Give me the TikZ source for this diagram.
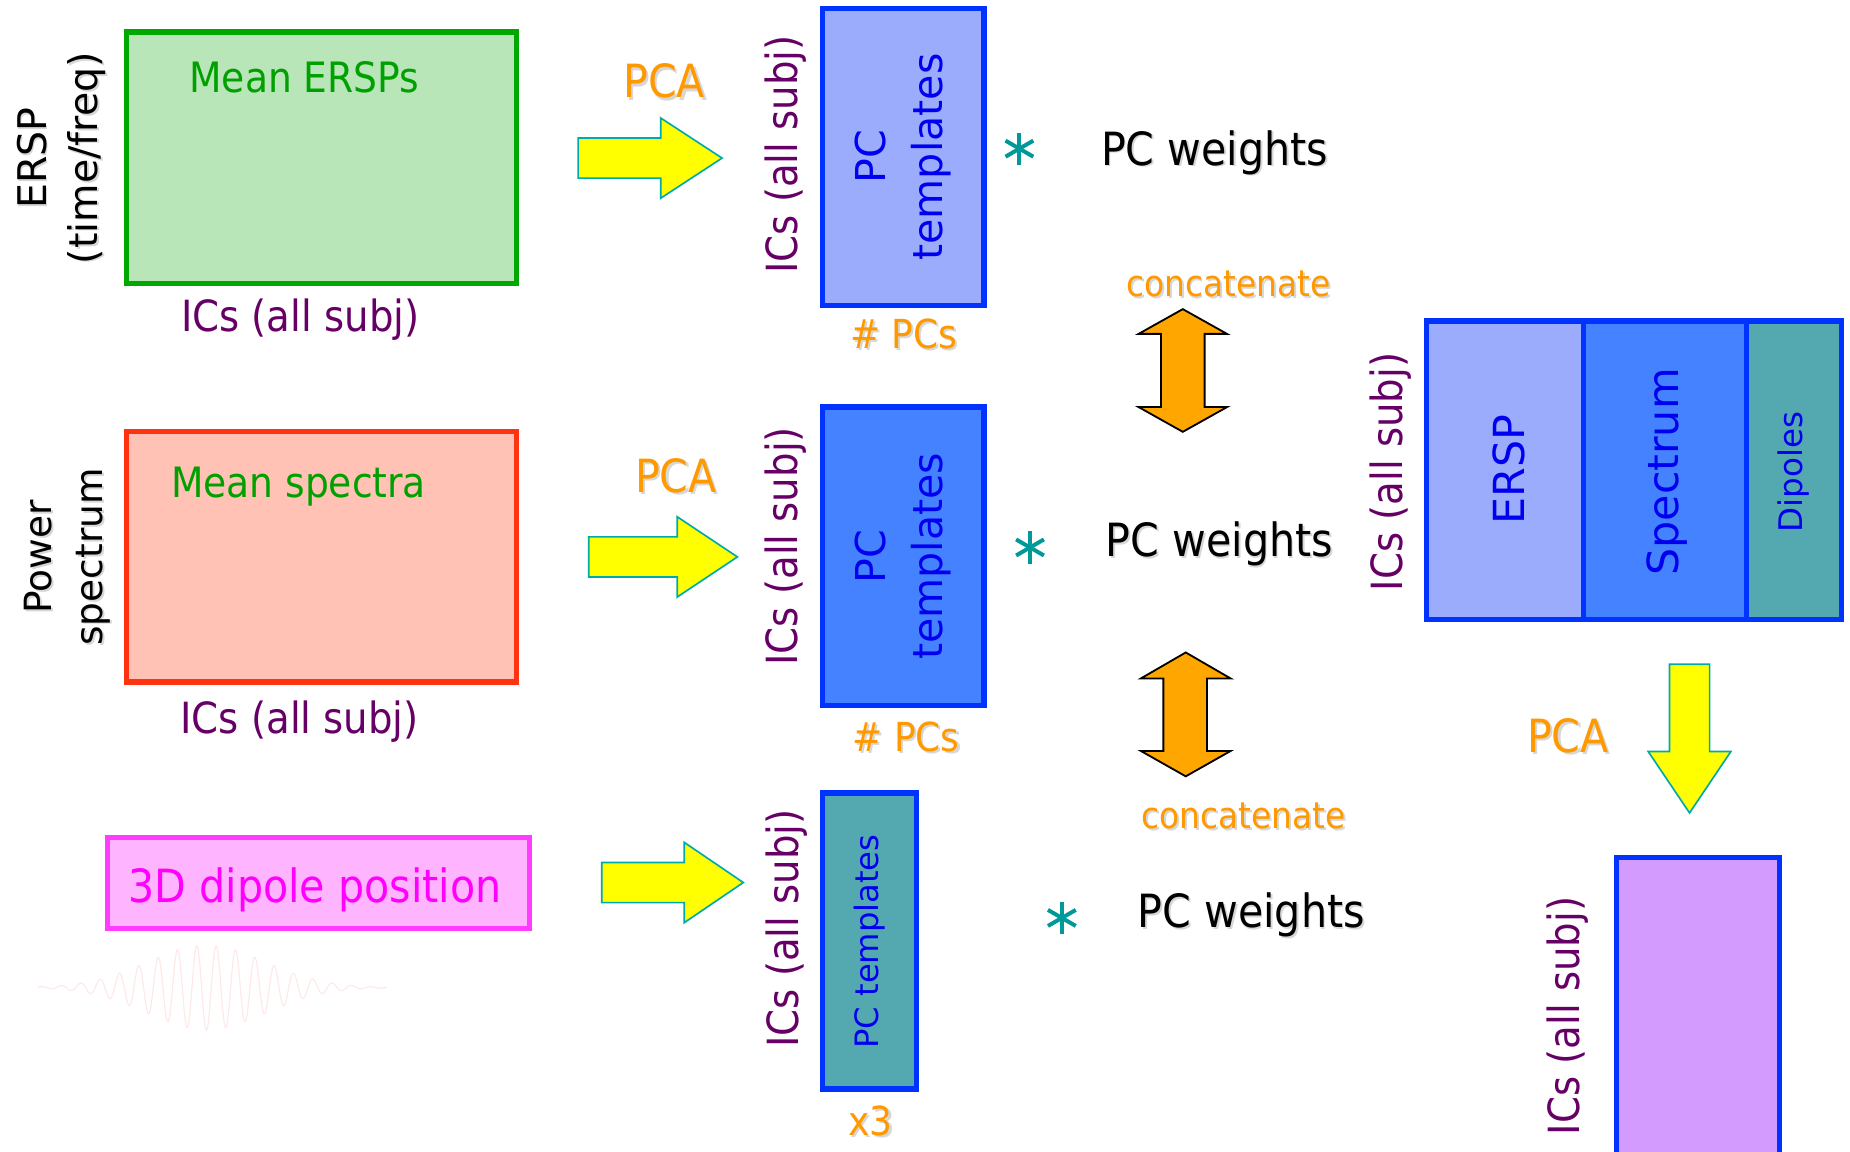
\documentclass[tikz,border=0pt]{standalone}
\usepackage{fontspec}
\setmainfont{DejaVu Sans}
\newfontfamily\dvs{DejaVu Sans}
\newfontfamily\dvc{DejaVu Sans Condensed}
\usetikzlibrary{fit}
\definecolor{gborder}{RGB}{0,168,0}
\definecolor{gfill}{RGB}{184,230,184}
\definecolor{gtext}{RGB}{0,160,0}
\definecolor{rborder}{RGB}{255,51,17}
\definecolor{rfill}{RGB}{255,194,180}
\definecolor{icpurple}{RGB}{102,0,102}
\definecolor{otext}{RGB}{255,153,0}
\definecolor{bborder}{RGB}{0,51,255}
\definecolor{lblue}{RGB}{155,172,252}
\definecolor{mblue}{RGB}{69,130,255}
\definecolor{tealfill}{RGB}{84,168,176}
\definecolor{purplefill}{RGB}{212,155,255}
\definecolor{pinkfill}{RGB}{255,180,255}
\definecolor{pinkborder}{RGB}{255,60,255}
\definecolor{magtext}{RGB}{255,0,255}
\definecolor{ptext}{RGB}{0,0,240}
\definecolor{yfill}{RGB}{255,255,0}
\definecolor{yedge}{RGB}{0,170,170}
\definecolor{ofill}{RGB}{255,166,0}
\definecolor{astc}{RGB}{0,153,153}
\definecolor{wavec}{RGB}{255,232,232}
\definecolor{shadowc}{RGB}{215,215,215}
\begin{document}
\begin{tikzpicture}[x=0.025cm,y=-0.025cm,
  fitbox/.style={inner sep=0pt, line width=3.2pt},
  bluebox/.style={fitbox, draw=bborder},
  icl/.style={inner sep=0pt, text=icpurple, font=\dvc\fontsize{25.9pt}{30pt}\selectfont},
  icr/.style={icl, rotate=90},
  olbl/.style={inner sep=0pt, anchor=base, text=otext, font=\dvc\fontsize{27.6pt}{30pt}\selectfont},
  conc/.style={inner sep=0pt, anchor=base, text=otext, font=\dvc\fontsize{22pt}{26pt}\selectfont},
  npc/.style={inner sep=0pt, anchor=base, text=otext, font=\dvc\fontsize{24.1pt}{28pt}\selectfont},
  wts/.style={inner sep=0pt, anchor=base west, text=black, font=\dvc\fontsize{27.6pt}{30pt}\selectfont},
  meanl/.style={inner sep=0pt, anchor=base, text=gtext, font=\dvc\fontsize{25.2pt}{30pt}\selectfont},
  tmpl/.style={inner sep=0pt, rotate=90, align=center, text=ptext, font=\dvs\fontsize{24.8pt}{34.7pt}\selectfont},
  sidel/.style={inner sep=0pt, rotate=90, align=center, text=black},
  shd/.style={text=shadowc},
  yarrow/.style={fill=yfill, draw=yedge, line width=1pt, line join=miter},
  oarrow/.style={fill=ofill, draw=black, line width=1.1pt, line join=miter},
  astk/.style={circle, inner sep=0pt, minimum size=0.7cm,
    path picture={\foreach \a in {90,30,150}
      \draw[astc, line width=2.4pt] (path picture bounding box.center) ++(\a:0.34cm) -- ++(\a+180:0.68cm);}}
]
\useasboundingbox (0,0) rectangle (1568,976);
\clip (0,0) rectangle (1568,976);

% ---------- left column ----------
\node[sidel, shd, font=\dvs\fontsize{23.8pt}{31pt}\selectfont] (lab1s) at (53.5,135.5) {ERSP\\(time/freq)};
\node[sidel, font=\dvs\fontsize{23.8pt}{31pt}\selectfont] (lab1) at (52,134) {ERSP\\(time/freq)};
\node[sidel, shd, font=\dvs\fontsize{22.6pt}{31pt}\selectfont] (lab2s) at (58.5,473.5) {Power\\spectrum};
\node[sidel, font=\dvs\fontsize{22.6pt}{31pt}\selectfont] (lab2) at (57,472) {Power\\spectrum};

\node[fitbox, draw=gborder, fill=gfill, fit={(107,27) (438,240)}] (ersp) {};
\node[meanl] (merp) at (258,78) {Mean ERSPs};
\node[icl, anchor=base] (ic1) at (254.5,281) {ICs (all subj)};

\node[fitbox, draw=rborder, fill=rfill, fit={(107,366) (438,578)}] (spec) {};
\node[meanl] (mspec) at (253,422) {Mean spectra};
\node[icl, anchor=base] (ic2) at (254,622) {ICs (all subj)};

\node[fitbox, draw=pinkborder, fill=pinkfill, fit={(91,710) (449,787)}] (dip) {};
\node[inner sep=0pt, anchor=base, text=magtext, font=\dvc\fontsize{27.6pt}{30pt}\selectfont] (diptxt) at (267,765) {3D dipole position};

\draw[wavec, line width=0.7pt] plot[domain=32:328, samples=500] (\x, {837 + 36*exp(-0.5*((\x-175)/50)^2)*cos(((\x-175)/16.4)*360)});

% ---------- PCA arrows ----------
\node[olbl, shd] (pca1s) at (564.8,84.8) {PCA};
\node[olbl] (pca1) at (563,83) {PCA};
\draw[yarrow] (490,117) -- (560,117) -- (560,100) -- (612,134) -- (560,168) -- (560,151) -- (490,151) -- cycle;
\node[olbl, shd] (pca2s) at (574.8,418.8) {PCA};
\node[olbl] (pca2) at (573,417) {PCA};
\draw[yarrow] (499,455) -- (574,455) -- (574,438) -- (625,472) -- (574,506) -- (574,489) -- (499,489) -- cycle;
\draw[yarrow] (510,731) -- (580,731) -- (580,714) -- (630,748) -- (580,782) -- (580,765) -- (510,765) -- cycle;

% ---------- PC template boxes ----------
\node[icr] (ic3) at (666,131) {ICs (all subj)};
\node[bluebox, fill=lblue, fit={(697,7) (834,259)}] (pc1) {};
\node[tmpl] (pc1t) at (pc1.center) {PC\\templates};
\node[npc, shd] (np1s) at (767.8,296.8) {\# PCs};
\node[npc] (np1) at (766,295) {\# PCs};

\node[icr] (ic4) at (666,463) {ICs (all subj)};
\node[bluebox, fill=mblue, fit={(697,345) (834,598)}] (pc2) {};
\node[tmpl] (pc2t) at (pc2.center) {PC\\templates};
\node[npc, shd] (np2s) at (769.8,638.8) {\# PCs};
\node[npc] (np2) at (768,637) {\# PCs};

\node[icr] (ic5) at (667,787) {ICs (all subj)};
\node[bluebox, fill=tealfill, fit={(697,672) (777,923)}] (pc3) {};
\node[inner sep=0pt, rotate=90, text=ptext, font=\dvs\fontsize{19.4pt}{22pt}\selectfont] (pc3t) at (737,798) {PC templates};
\node[npc, shd] (x3s) at (739.8,963.8) {x3};
\node[npc] (x3) at (738,962) {x3};

% ---------- weights ----------
\node[astk] (as1) at (864,126) {};
\node[wts, shd] (w1s) at (934.5,141.5) {PC weights};
\node[wts] (w1) at (933,140) {PC weights};
\node[astk] (as2) at (873,464) {};
\node[wts, shd] (w2s) at (938.5,473.5) {PC weights};
\node[wts] (w2) at (937,472) {PC weights};
\node[astk] (as3) at (900,778) {};
\node[wts, shd] (w3s) at (965.5,788) {PC weights};
\node[wts] (w3) at (964,786.5) {PC weights};

\node[conc, shd] (cc1s) at (1042.6,253.1) {concatenate};
\node[conc] (cc1) at (1041,251.5) {concatenate};
\draw[oarrow] (1002.5,262) -- (1040,283) -- (1021,283) -- (1021,345) -- (1040,345) -- (1002.5,366) -- (965,345) -- (984,345) -- (984,283) -- (965,283) -- cycle;
\draw[oarrow] (1005,553) -- (1043,575) -- (1023,575) -- (1023,636.5) -- (1043,636.5) -- (1005,658) -- (967,636.5) -- (986,636.5) -- (986,575) -- (967,575) -- cycle;
\node[conc, shd] (cc2s) at (1055.6,703.6) {concatenate};
\node[conc] (cc2) at (1054,702) {concatenate};

% ---------- concatenated matrix ----------
\node[icr] (ic6) at (1179,400) {ICs (all subj)};
\node[bluebox, fill=lblue, fit={(1209,272) (1342,525)}] (cat1) {};
\node[bluebox, fill=mblue, fit={(1342,272) (1480,525)}] (cat2) {};
\node[bluebox, fill=tealfill, fit={(1480,272) (1561,525)}] (cat3) {};
\node[inner sep=0pt, rotate=90, text=ptext, font=\dvs\fontsize{25.8pt}{28pt}\selectfont] (cat1t) at (1279,398) {ERSP};
\node[inner sep=0pt, rotate=90, text=ptext, font=\dvs\fontsize{25.8pt}{28pt}\selectfont] (cat2t) at (1413,400) {Spectrum};
\node[inner sep=0pt, rotate=90, text=ptext, font=\dvs\fontsize{19.6pt}{22pt}\selectfont] (cat3t) at (1520,400) {Dipoles};

\draw[yarrow] (1415,563) -- (1449,563) -- (1449,637) -- (1467,637) -- (1432,689) -- (1397,637) -- (1415,637) -- cycle;
\node[olbl, shd] (pca3s) at (1330.8,639.8) {PCA};
\node[olbl] (pca3) at (1329,638) {PCA};

\node[icr] (ic7) at (1329,861) {ICs (all subj)};
\node[bluebox, fill=purplefill, fit={(1370,727) (1508,1000)}] (res) {};
\end{tikzpicture}
\end{document}
